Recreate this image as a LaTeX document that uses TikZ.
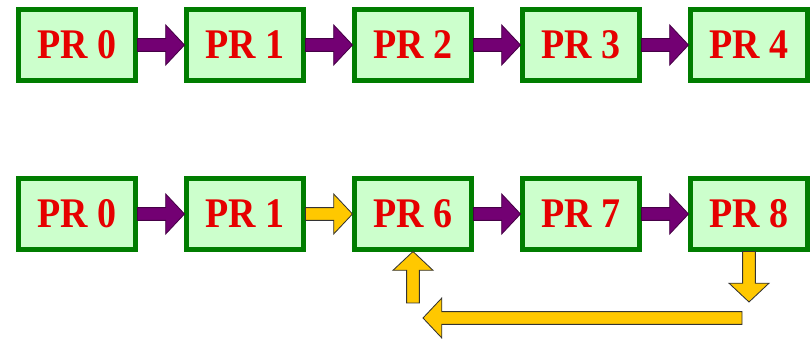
\documentclass[tikz,border=0pt]{standalone}
\usepackage{fontspec}
\newfontfamily\prfont[FakeStretch=0.9]{Liberation Serif}
\usetikzlibrary{calc}

\definecolor{boxgreen}{RGB}{0,125,0}
\definecolor{boxfill}{RGB}{204,255,204}
\definecolor{prred}{RGB}{230,0,0}
\definecolor{arrpurple}{RGB}{115,0,115}
\definecolor{arrpurpledark}{RGB}{70,0,70}
\definecolor{arryellow}{RGB}{255,200,0}

\newcommand{\shafthalf}{0.16cm}
\newcommand{\headhalf}{0.5cm}
\newcommand{\headlen}{0.47cm}

\tikzset{
  prbox/.style={draw=boxgreen,fill=boxfill,line width=0.125cm,minimum width=2.9cm,minimum height=1.75cm,inner sep=0pt,
    text=prred,font=\prfont\bfseries\fontsize{30}{30}\selectfont},
  fatarrow/.style={to path={let \p1=(\tikztostart), \p2=(\tikztotarget), \p3=($(\p2)!\headlen!(\p1)$) in
    ($(\p1)!\shafthalf!90:(\p2)$) -- ($(\p3)!\shafthalf!90:(\p2)$) -- ($(\p3)!\headhalf!90:(\p2)$) -- (\p2)
    -- ($(\p3)!\headhalf!-90:(\p2)$) -- ($(\p3)!\shafthalf!-90:(\p2)$) -- ($(\p1)!\shafthalf!-90:(\p2)$) -- cycle}},
  purplearrow/.style={fatarrow,fill=arrpurple,draw=arrpurpledark,line width=0.6pt},
  yellowarrow/.style={fatarrow,fill=arryellow,draw=black!80,line width=0.6pt}
}

\begin{document}
\begin{tikzpicture}[x=0.025cm,y=-0.025cm]
        \useasboundingbox (0,0) rectangle (810,339);

        % first row
        \node[prbox] (a0) at (77,45) {PR 0};
        \node[prbox] (a1) at (245,45) {PR 1};
        \node[prbox] (a2) at (413,45) {PR 2};
        \node[prbox] (a3) at (581,45) {PR 3};
        \node[prbox] (a4) at (749,45) {PR 4};

        \draw[purplearrow] (a0.east) to (a1.west);
        \draw[purplearrow] (a1.east) to (a2.west);
        \draw[purplearrow] (a2.east) to (a3.west);
        \draw[purplearrow] (a3.east) to (a4.west);

        % second row
        \node[prbox] (b0) at (77,214) {PR 0};
        \node[prbox] (b1) at (245,214) {PR 1};
        \node[prbox] (b6) at (413,214) {PR 6};
        \node[prbox] (b7) at (581,214) {PR 7};
        \node[prbox] (b8) at (749,214) {PR 8};

        \draw[purplearrow] (b0.east) to (b1.west);
        \draw[yellowarrow] (b1.east) to (b6.west);
        \draw[purplearrow] (b6.east) to (b7.west);
        \draw[purplearrow] (b7.east) to (b8.west);

        % way back
        \coordinate (upfoot) at (413,303);
        \coordinate (dnhead) at (749,302);
        \coordinate (backright) at (742,318);
        \coordinate (backleft) at (423,318);

        \draw[yellowarrow] (b8.south) to (dnhead);
        \draw[yellowarrow] (backright) to (backleft);
        \draw[yellowarrow] (upfoot) to (b6.south);
\end{tikzpicture}
\end{document}
